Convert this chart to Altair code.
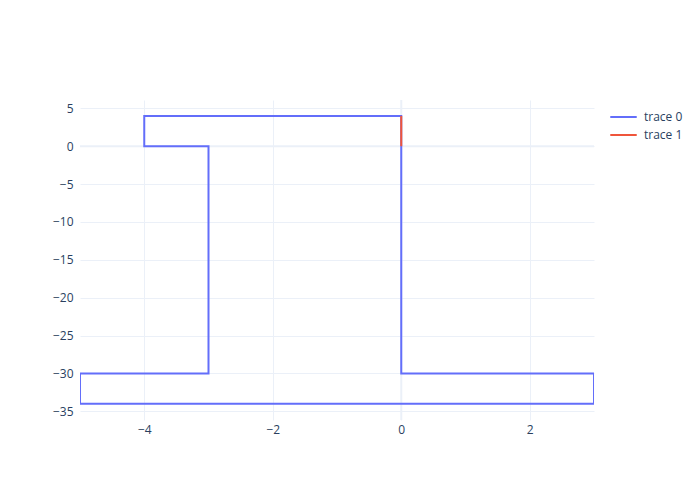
import altair as alt
import pandas as pd

trace0_x = [0, 0, 3, 3, -5, -5, -3, -3, -4, -4, 0, 0]
trace0_y = [0, -30, -30, -34, -34, -30, -30, 0, 0, 4, 4, 0]
trace1_x = [0, 0]
trace1_y = [0, 4]
names = ["trace 0", "trace 1"]
colors = ["#636efa", "#EF553B"]
x_ticks = [-4, -2, 0, 2]
y_ticks = [5, 0, -5, -10, -15, -20, -25, -30, -35]

rows = []
for i, (x, y) in enumerate(zip(trace0_x, trace0_y)):
    rows.append({"x": x, "y": y, "trace": names[0], "i": i})
for i, (x, y) in enumerate(zip(trace1_x, trace1_y)):
    rows.append({"x": x, "y": y, "trace": names[1], "i": i})
df = pd.DataFrame(rows)

xs = alt.Scale(domain=[-5, 3], nice=False, zero=False)
ys = alt.Scale(domain=[-36.15, 6.1], nice=False, zero=False)

xaxis = alt.Axis(values=x_ticks, grid=True, gridColor="#ebf0f8", domain=False,
                 ticks=False, labelPadding=4, labelFontSize=12, labelOverlap=False,
                 labelColor="#2a3f5f", labelFont="Open Sans")
yaxis = alt.Axis(values=y_ticks, grid=True, gridColor="#ebf0f8", domain=False,
                 ticks=False, labelPadding=7, labelFontSize=12, labelOverlap=False,
                 labelColor="#2a3f5f", labelFont="Open Sans")

lines = alt.Chart(df).mark_line(strokeWidth=2, clip=True).encode(
    x=alt.X("x:Q", scale=xs, title=None, axis=xaxis),
    y=alt.Y("y:Q", scale=ys, title=None, axis=yaxis),
    color=alt.Color("trace:N", scale=alt.Scale(domain=names, range=colors),
                    legend=alt.Legend(title=None, orient="none", legendX=529, legendY=9,
                                      symbolType="stroke", symbolStrokeWidth=2,
                                      symbolSize=700, labelFontSize=12, clipHeight=16,
                                      labelColor="#2a3f5f", labelFont="Open Sans",
                                      rowPadding=2, labelOffset=6)),
    detail="trace:N",
    order="i:Q",
)

zero_df = pd.DataFrame({"v": [0]})
zx = alt.Chart(zero_df).mark_rule(color="#ebf0f8", strokeWidth=2).encode(
    x=alt.X("v:Q", scale=xs, title=None, axis=xaxis))
zy = alt.Chart(zero_df).mark_rule(color="#ebf0f8", strokeWidth=2).encode(
    y=alt.Y("v:Q", scale=ys, title=None, axis=yaxis))

chart = alt.layer(zx, zy, lines).properties(
    width=514, height=320,
    autosize=alt.AutoSizeParams(type="none"),
    padding={"left": 72, "top": 92, "right": 98, "bottom": 72},
    background="white",
).configure_view(stroke=None)

chart.save("out.html", embed_options={"renderer": "svg", "actions": False})
